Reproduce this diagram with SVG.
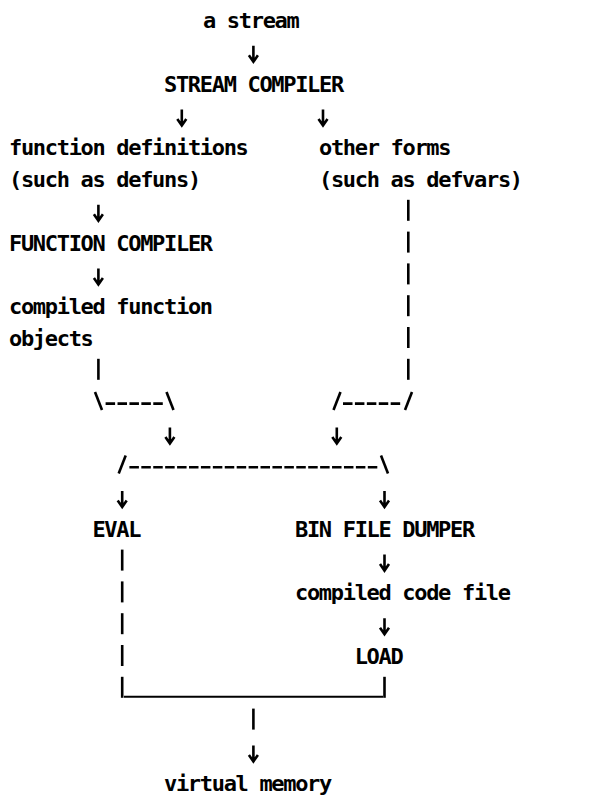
<svg xmlns="http://www.w3.org/2000/svg" xmlns:xlink="http://www.w3.org/1999/xlink" width="596" height="796" viewBox="0 0 596 796">
<style>
  text { font-family: "DejaVu Sans Mono", "Liberation Mono", monospace; font-size: 22px; font-weight: bold; letter-spacing: -1.32px; fill: #000; }
  .ln { fill: none; stroke: #000; stroke-width: 2.6; stroke-linecap: butt; }
  .dash { fill: none; stroke: #000; stroke-width: 2.6; stroke-dasharray: 9.5 2.42; }
  .ar { fill: none; stroke: #000; stroke-width: 2.6; stroke-linejoin: miter; }
</style>
<defs>
  <path id="arr" class="ar" d="M0,-16 V-1 M-4.5,-6.5 L0,0 L4.5,-6.5"/>
  <path id="bar" class="ln" d="M0,-19 V2"/>
</defs>
<rect width="596" height="796" fill="#fff"/>

<g id="connectors">
  <!-- arrows -->
  <use xlink:href="#arr" x="253.4" y="61.8"/>
  <use xlink:href="#arr" x="181.8" y="125.4"/>
  <use xlink:href="#arr" x="323" y="125.4"/>
  <use xlink:href="#arr" x="98.4" y="220.8"/>
  <use xlink:href="#arr" x="98.4" y="284.4"/>
  <use xlink:href="#arr" x="169.9" y="443.4"/>
  <use xlink:href="#arr" x="336.8" y="443.4"/>
  <use xlink:href="#arr" x="122.2" y="507"/>
  <use xlink:href="#arr" x="384.5" y="507"/>
  <use xlink:href="#arr" x="384.5" y="570.6"/>
  <use xlink:href="#arr" x="384.5" y="634.2"/>
  <use xlink:href="#arr" x="253.4" y="761.4"/>
  <!-- right vertical (other forms) -->
  <use xlink:href="#bar" x="408.3" y="218.8"/>
  <use xlink:href="#bar" x="408.3" y="250.6"/>
  <use xlink:href="#bar" x="408.3" y="282.4"/>
  <use xlink:href="#bar" x="408.3" y="314.2"/>
  <use xlink:href="#bar" x="408.3" y="346"/>
  <use xlink:href="#bar" x="408.3" y="377.8"/>
  <!-- left bar under objects -->
  <use xlink:href="#bar" x="98.4" y="377.8"/>
  <!-- merge lines -->
  <path class="ln" d="M95,392 L102,410"/>
  <line class="dash" x1="105.6" y1="403.6" x2="164" y2="403.6"/>
  <path class="ln" d="M166.5,392 L173.5,410"/>
  <path class="ln" d="M340.5,392 L333.5,410"/>
  <line class="dash" x1="343" y1="403.6" x2="401.5" y2="403.6"/>
  <path class="ln" d="M412,392 L405,410"/>
  <!-- split line -->
  <path class="ln" d="M125.7,455.5 L118.7,473.5"/>
  <line class="dash" x1="129.4" y1="467.2" x2="378.5" y2="467.2"/>
  <path class="ln" d="M381,455.5 L388,473.5"/>
  <!-- EVAL down -->
  <use xlink:href="#bar" x="122.2" y="568.6"/>
  <use xlink:href="#bar" x="122.2" y="600.4"/>
  <use xlink:href="#bar" x="122.2" y="632.2"/>
  <use xlink:href="#bar" x="122.2" y="664"/>
  <!-- join -->
  <use xlink:href="#bar" x="122.2" y="695.8"/>
  <use xlink:href="#bar" x="384.5" y="695.8"/>
  <line x1="124" y1="696.8" x2="383" y2="696.8" stroke="#000" stroke-width="2"/>
  <use xlink:href="#bar" x="253.4" y="727.6"/>
</g>

<g id="node-stream"><text x="203" y="28">a stream</text></g>
<g id="node-stream-compiler"><text x="164" y="91.6">STREAM COMPILER</text></g>
<g id="node-function-definitions"><text x="9" y="155.2">function definitions</text><text x="9" y="187">(such as defuns)</text></g>
<g id="node-other-forms"><text x="319" y="155.2">other forms</text><text x="319" y="187">(such as defvars)</text></g>
<g id="node-function-compiler"><text x="9" y="250.6">FUNCTION COMPILER</text></g>
<g id="node-compiled-function-objects"><text x="9" y="314.2">compiled function</text><text x="9" y="346">objects</text></g>
<g id="node-eval"><text x="92.4" y="536.8">EVAL</text></g>
<g id="node-bin-file-dumper"><text x="295" y="536.8">BIN FILE DUMPER</text></g>
<g id="node-compiled-code-file"><text x="295" y="600.4">compiled code file</text></g>
<g id="node-load"><text x="354.7" y="664">LOAD</text></g>
<g id="node-virtual-memory"><text x="164" y="791.2">virtual memory</text></g>
</svg>
